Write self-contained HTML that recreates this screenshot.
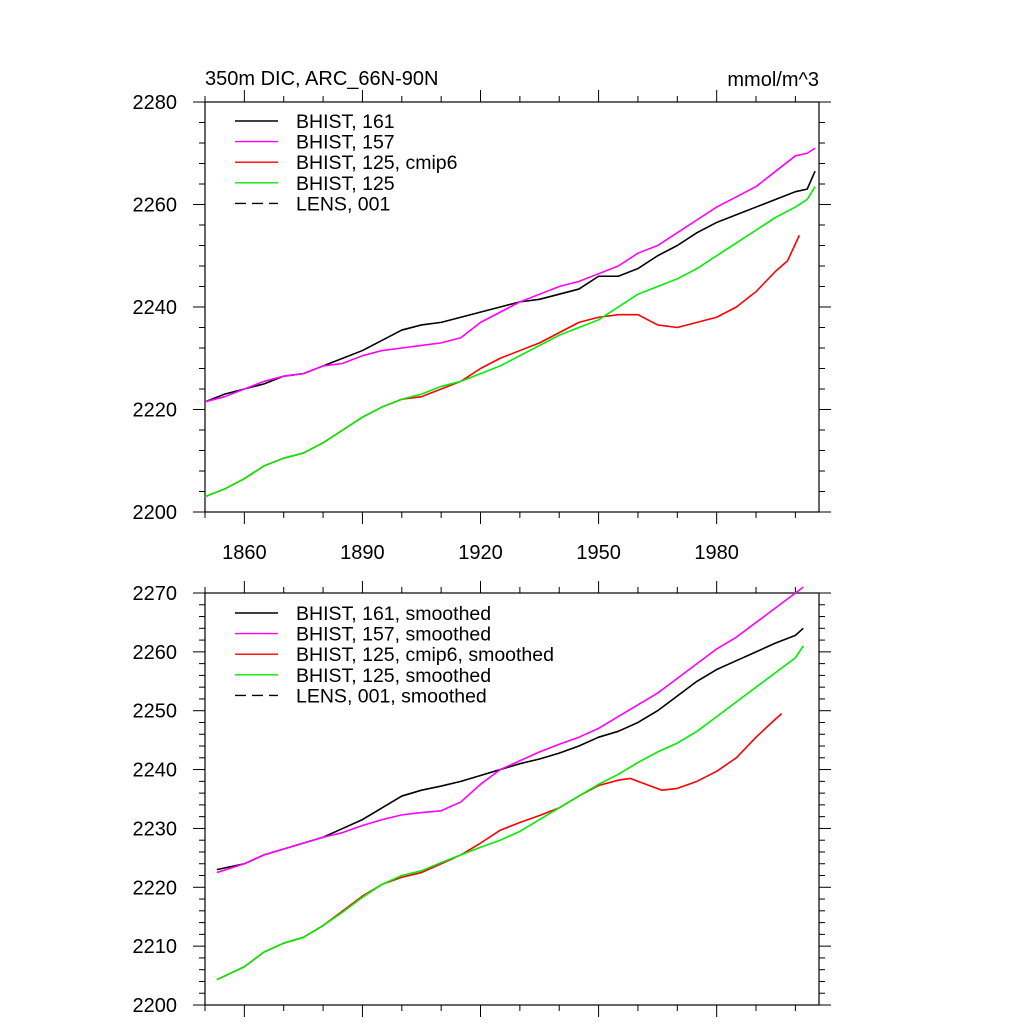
<!DOCTYPE html>
<html><head><meta charset="utf-8"><style>
body{margin:0;background:#fff}
svg text{font-family:"Liberation Sans",sans-serif;fill:#000}
</style></head><body>
<svg id="c" width="1024" height="1024" xmlns="http://www.w3.org/2000/svg">
<text x="205" y="85" font-size="20">350m DIC, ARC_66N-90N</text>
<text x="819" y="86" font-size="20" text-anchor="end">mmol/m^3</text>
</svg>
<script>
const years=[1850,1855,1860,1865,1870,1875,1880,1885,1890,1895,1900,1905,1910,1915,1920,1925,1930,1935,1940,1945,1950,1955,1960,1965,1970,1975,1980,1985,1990,1995,2000,2003,2005];
const b161=[2221.5,2223,2224,2225,2226.5,2227,2228.5,2230,2231.5,2233.5,2235.5,2236.5,2237,2238,2239,2240,2241,2241.5,2242.5,2243.5,2246,2246,2247.5,2250,2252,2254.5,2256.5,2258,2259.5,2261,2262.5,2263,2266.5];
const b157=[2221.5,2222.5,2224,2225.5,2226.5,2227,2228.5,2229,2230.5,2231.5,2232,2232.5,2233,2234,2237,2239,2241,2242.5,2244,2245,2246.5,2248,2250.5,2252,2254.5,2257,2259.5,2261.5,2263.5,2266.5,2269.5,2270,2271];
const redYears=[1850,1855,1860,1865,1870,1875,1880,1885,1890,1895,1900,1905,1910,1915,1920,1925,1930,1935,1940,1945,1950,1955,1960,1965,1970,1975,1980,1985,1990,1995,1998,2001];
const b125c=[2203,2204.5,2206.5,2209,2210.5,2211.5,2213.5,2216,2218.5,2220.5,2222,2222.5,2224,2225.5,2228,2230,2231.5,2233,2235,2237,2238,2238.5,2238.5,2236.5,2236,2237,2238,2240,2243,2247,2249,2254];
const b125=[2203,2204.5,2206.5,2209,2210.5,2211.5,2213.5,2216,2218.5,2220.5,2222,2223,2224.5,2225.5,2227,2228.5,2230.5,2232.5,2234.5,2236,2237.5,2240,2242.5,2244,2245.5,2247.5,2250,2252.5,2255,2257.5,2259.5,2261,2263.5];
const sYears=[1853,1860,1865,1870,1875,1880,1885,1890,1895,1900,1905,1910,1915,1920,1925,1930,1935,1940,1945,1950,1955,1960,1965,1970,1975,1980,1985,1990,1995,2000,2002];
const s161=[2223,2224,2225.5,2226.5,2227.5,2228.5,2230,2231.5,2233.5,2235.5,2236.5,2237.2,2238,2239,2240,2241,2241.8,2242.8,2244,2245.5,2246.5,2248,2250,2252.5,2255,2257,2258.5,2260,2261.5,2262.8,2264];
const s157=[2222.5,2224,2225.5,2226.5,2227.5,2228.5,2229.3,2230.5,2231.5,2232.3,2232.7,2233,2234.5,2237.5,2240,2241.5,2243,2244.3,2245.5,2247,2249,2251,2253,2255.5,2258,2260.5,2262.5,2265,2267.5,2270,2271];
const sRedYears=[1853,1860,1865,1870,1875,1880,1885,1890,1895,1900,1905,1910,1915,1920,1925,1930,1935,1940,1945,1950,1955,1958,1962,1966,1970,1975,1980,1985,1990,1994,1996.5];
const s125c=[2204.3,2206.5,2209,2210.5,2211.5,2213.5,2216,2218.5,2220.5,2221.7,2222.5,2224,2225.5,2227.5,2229.7,2231,2232.2,2233.5,2235.5,2237.3,2238.2,2238.5,2237.5,2236.5,2236.8,2238,2239.7,2242,2245.5,2248,2249.5];
const s125=[2204.3,2206.5,2209,2210.5,2211.5,2213.5,2215.8,2218.3,2220.5,2222,2222.8,2224.2,2225.5,2226.8,2228,2229.5,2231.5,2233.5,2235.5,2237.5,2239.2,2241.2,2243,2244.5,2246.5,2249,2251.5,2254,2256.5,2259,2261];
const xTicks=[1860,1890,1920,1950,1980];

const svg=document.getElementById('c');const NS='http://www.w3.org/2000/svg';
const X0=205,X1=819,XMIN=1850,XMAX=2006;
const xs=v=>X0+(v-XMIN)/(XMAX-XMIN)*(X1-X0);
function mk(t,a,p){const e=document.createElementNS(NS,t);for(const k in a)e.setAttribute(k,a[k]);(p||svg).appendChild(e);return e;}
function panel(top,bot,ymin,ymax,ymaj,ymin2,showX,name,series,legend){
  const g=mk('g',{});
  
  
  const ys=v=>bot-(v-ymin)/(ymax-ymin)*(bot-top);
  mk('rect',{x:X0,y:top,width:X1-X0,height:bot-top,fill:'none',stroke:'#000','stroke-width':1.2},g);
  for(let v=ymin;v<=ymax+1e-6;v+=ymin2){const maj=Math.abs(((v-ymin)/ymaj)-Math.round((v-ymin)/ymaj))<1e-6;const L=maj?12:6;const y=ys(v);
    mk('line',{x1:X0-L,x2:X0,y1:y,y2:y,stroke:'#000'},g);mk('line',{x1:X1,x2:X1+L,y1:y,y2:y,stroke:'#000'},g);
    if(maj){const t=mk('text',{x:X0-28,y:y+7,'font-size':20,'text-anchor':'end'},g);t.textContent=v;}}
  for(let v=1850;v<=XMAX;v+=10){const maj=xTicks.includes(v);const L=maj?12:6;const x=xs(v);
    mk('line',{x1:x,x2:x,y1:bot,y2:bot+L,stroke:'#000'},g);mk('line',{x1:x,x2:x,y1:top-L,y2:top,stroke:'#000'},g);}
  if(showX)xTicks.forEach(v=>{const t=mk('text',{x:xs(v),y:bot+47,'font-size':20,'text-anchor':'middle'},g);t.textContent=v;});
  series.forEach(s=>{const p=mk('polyline',{points:s.x.map((v,i)=>xs(v)+','+ys(s.y[i])).join(' '),fill:'none',stroke:s.c,'stroke-width':1.6,'stroke-linejoin':'round'},g);});
  legend.forEach((l,i)=>{const y=legend.y0+i*20.6;
    mk('line',{x1:235,x2:278,y1:y,y2:y,stroke:l.c,'stroke-width':1.4,'stroke-dasharray':l.d?'11,6':'none'},g);
    const t=mk('text',{x:296,y:y+7,'font-size':19.5},g);t.textContent=l.t;});
}
const lt=[{c:'#000',t:'BHIST, 161'},{c:'#f0f',t:'BHIST, 157'},{c:'#f00',t:'BHIST, 125, cmip6'},{c:'#0e0',t:'BHIST, 125'},{c:'#000',t:'LENS, 001',d:1}];lt.y0=121;
panel(102,512,2200,2280,20,4,true,'top-panel',[
 {x:years,y:b161,c:'#000',n:'line-bhist-161'},{x:years,y:b157,c:'#f0f',n:'line-bhist-157'},
 {x:redYears,y:b125c,c:'#f00',n:'line-bhist-125-cmip6'},{x:years,y:b125,c:'#0e0',n:'line-bhist-125'}],lt);
const lb=lt.map(l=>({c:l.c,t:l.t+', smoothed',d:l.d}));lb.y0=613;
panel(593,1005,2200,2270,10,2,false,'bottom-panel',[
 {x:sYears,y:s161,c:'#000',n:'line-bhist-161-smoothed'},{x:sYears,y:s157,c:'#f0f',n:'line-bhist-157-smoothed'},
 {x:sRedYears,y:s125c,c:'#f00',n:'line-bhist-125-cmip6-smoothed'},{x:sYears,y:s125,c:'#0e0',n:'line-bhist-125-smoothed'}],lb);
</script>
</body></html>
